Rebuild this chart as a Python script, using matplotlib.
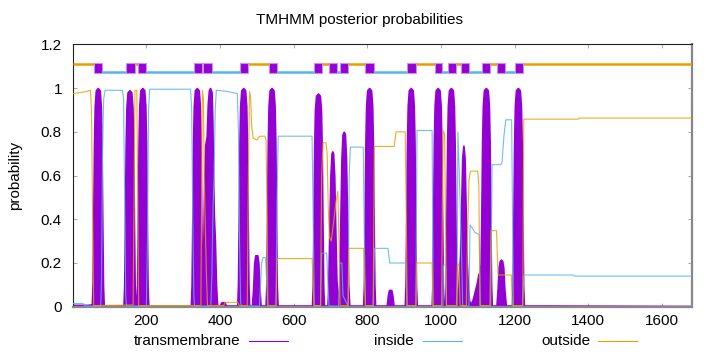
import matplotlib
matplotlib.use("Agg")
import matplotlib.pyplot as plt
from matplotlib.lines import Line2D
from matplotlib.patches import Rectangle
import numpy as np

plt.rcParams["font.family"] = ["Liberation Sans", "DejaVu Sans"]
plt.rcParams["font.size"] = 11

seq_len = 1681

# predicted transmembrane segments (top topology bar)
tm_start = [57, 146, 178, 328, 355, 454, 532, 655, 696, 725, 794, 908, 983, 1018, 1054, 1111, 1153, 1200]
tm_end = [79, 168, 200, 350, 377, 476, 554, 677, 719, 748, 817, 931, 1004, 1040, 1076, 1133, 1175, 1222]

# posterior probability, transmembrane
tm_points = [
    (1, 0.008), (40, 0.008), (50, 0.01),
    (52, 0.01), (54, 0.1), (56, 0.4), (58, 0.75), (60, 0.92), (63, 0.99), (68, 1.0), (73, 0.99), (76, 0.92), (78, 0.75), (80, 0.4), (82, 0.1), (84, 0.005),
    (138, 0.005), (140, 0.1), (142, 0.4), (144, 0.74), (146, 0.91), (149, 0.98), (154, 0.99), (159, 0.98), (162, 0.91), (164, 0.74), (166, 0.4), (168, 0.1), (170, 0.005),
    (173, 0.005), (175, 0.1), (177, 0.4), (179, 0.75), (181, 0.92), (184, 0.99), (189, 1.0), (194, 0.99), (197, 0.92), (199, 0.75), (201, 0.4), (203, 0.1), (205, 0.005),
    (321, 0.005), (323, 0.1), (325, 0.4), (327, 0.75), (329, 0.92), (332, 0.99), (337, 1.0), (342, 0.99), (345, 0.92), (347, 0.75), (349, 0.4), (351, 0.1), (353, 0.005),
    (354, 0.2), (357, 0.55), (360, 0.74), (364, 0.78), (367, 0.93), (370, 0.99), (373, 1.0), (377, 0.98), (379, 0.85), (381, 0.6), (383, 0.42), (386, 0.3), (389, 0.1), (392, 0.005),
    (400, 0.005), (404, 0.02), (412, 0.02), (416, 0.005),
    (447, 0.005), (449, 0.1), (451, 0.4), (453, 0.75), (455, 0.92), (458, 0.99), (463, 1.0), (468, 0.99), (471, 0.92), (473, 0.75), (475, 0.4), (477, 0.1), (479, 0.005),
    (487, 0.005), (490, 0.08), (493, 0.2), (496, 0.235), (501, 0.235), (504, 0.2), (507, 0.08), (510, 0.005),
    (524, 0.005), (526, 0.1), (528, 0.4), (530, 0.75), (532, 0.92), (535, 0.99), (540, 1.0), (545, 0.99), (548, 0.92), (550, 0.75), (552, 0.4), (554, 0.1), (556, 0.005),
    (650, 0.005), (652, 0.1), (654, 0.39), (656, 0.73), (658, 0.9), (661, 0.965), (666, 0.975), (671, 0.965), (674, 0.9), (676, 0.73), (678, 0.39), (680, 0.1), (682, 0.005),
    (692, 0.005), (694, 0.08), (697, 0.35), (700, 0.6), (703, 0.7), (705, 0.71), (707, 0.7), (710, 0.6), (713, 0.35), (716, 0.12), (719, 0.04),
    (722, 0.04), (724, 0.1), (727, 0.4), (730, 0.68), (733, 0.79), (736, 0.8), (739, 0.79), (742, 0.68), (745, 0.4), (748, 0.1), (751, 0.005),
    (789, 0.005), (791, 0.1), (793, 0.4), (795, 0.75), (797, 0.92), (800, 0.99), (805, 1.0), (810, 0.99), (813, 0.92), (815, 0.75), (817, 0.4), (819, 0.1), (821, 0.005),
    (853, 0.005), (856, 0.05), (859, 0.076), (865, 0.076), (868, 0.05), (871, 0.005),
    (902, 0.005), (904, 0.1), (906, 0.4), (908, 0.75), (910, 0.92), (913, 0.99), (918, 1.0), (923, 0.99), (926, 0.92), (928, 0.75), (930, 0.4), (932, 0.1), (934, 0.005),
    (975, 0.005), (977, 0.1), (979, 0.4), (981, 0.75), (983, 0.92), (986, 0.99), (991, 1.0), (996, 0.99), (999, 0.92), (1001, 0.75), (1003, 0.4), (1005, 0.1), (1007, 0.005),
    (1011, 0.005), (1013, 0.1), (1015, 0.4), (1017, 0.75), (1019, 0.92), (1022, 0.99), (1027, 1.0), (1032, 0.99), (1035, 0.92), (1037, 0.75), (1039, 0.4), (1041, 0.1), (1043, 0.005),
    (1046, 0.02), (1049, 0.15), (1052, 0.23), (1055, 0.45), (1058, 0.68), (1061, 0.736), (1064, 0.68), (1067, 0.45), (1070, 0.2), (1073, 0.1), (1076, 0.03),
    (1080, 0.01), (1086, 0.03), (1092, 0.07), (1098, 0.11), (1102, 0.15), (1105, 0.15),
    (1108, 0.2), (1110, 0.45), (1112, 0.75), (1114, 0.92), (1117, 0.99), (1122, 1.0), (1127, 0.99), (1130, 0.92), (1132, 0.75), (1134, 0.4), (1136, 0.1), (1138, 0.005),
    (1151, 0.005), (1154, 0.08), (1157, 0.18), (1160, 0.21), (1163, 0.215), (1166, 0.21), (1169, 0.18), (1172, 0.08), (1176, 0.005),
    (1193, 0.005), (1195, 0.1), (1197, 0.4), (1199, 0.75), (1201, 0.92), (1204, 0.99), (1209, 1.0), (1214, 0.99), (1217, 0.92), (1219, 0.75), (1221, 0.4), (1223, 0.1), (1225, 0.005),
    (1290, 0.005), (1681, 0.003),
]

# posterior probability, inside
inside_points = [
    (1, 0.015), (28, 0.015), (34, 0.003), (76, 0.003), (78, 0.1), (81, 0.7), (84, 0.95), (88, 0.99),
    (135, 0.99), (138, 0.95), (141, 0.5), (144, 0.05), (146, 0.003), (200, 0.003), (203, 0.3), (206, 0.9),
    (209, 0.995), (320, 0.995), (323, 0.9), (326, 0.4), (329, 0.05), (331, 0.003), (375, 0.003), (378, 0.15),
    (381, 0.45), (384, 0.6), (387, 0.9), (390, 0.99), (420, 0.985), (447, 0.975), (450, 0.8), (453, 0.3),
    (456, 0.02), (458, 0.003), (507, 0.003), (510, 0.1), (513, 0.2), (517, 0.225), (524, 0.225), (527, 0.1),
    (530, 0.003), (552, 0.003), (555, 0.5), (558, 0.78), (650, 0.78), (653, 0.4), (656, 0.003), (673, 0.003),
    (676, 0.245), (690, 0.245), (693, 0.1), (696, 0.003), (722, 0.003), (725, 0.2), (731, 0.2), (734, 0.05),
    (748, 0.003), (751, 0.6), (754, 0.73), (789, 0.73), (792, 0.3), (795, 0.003), (816, 0.003), (819, 0.267),
    (856, 0.267), (861, 0.2), (905, 0.2), (908, 0.003), (932, 0.003), (935, 0.806), (976, 0.806), (979, 0.003),
    (1005, 0.003), (1007, 0.19), (1013, 0.19), (1015, 0.003), (1044, 0.003), (1046, 0.8), (1049, 0.66),
    (1053, 0.4), (1056, 0.23), (1059, 0.003), (1076, 0.003), (1079, 0.374), (1085, 0.36), (1092, 0.34),
    (1104, 0.33), (1107, 0.003), (1135, 0.003), (1139, 0.65), (1162, 0.65), (1166, 0.66), (1171, 0.78),
    (1176, 0.855), (1192, 0.855), (1195, 0.3), (1197, 0.003), (1222, 0.003), (1225, 0.145), (1358, 0.145),
    (1362, 0.14), (1681, 0.14),
]

# posterior probability, outside
outside_points = [
    (1, 0.975), (30, 0.982), (48, 0.99), (51, 0.9), (54, 0.4), (57, 0.005), (164, 0.008), (166, 0.4),
    (169, 0.99), (174, 0.99), (177, 0.4), (179, 0.005), (348, 0.005), (350, 0.5), (352, 0.99), (355, 0.95),
    (357, 0.6), (360, 0.37), (363, 0.15), (366, 0.005), (410, 0.005), (414, 0.02), (448, 0.02), (452, 0.005),
    (474, 0.005), (477, 0.6), (480, 0.985), (483, 0.96), (486, 0.83), (490, 0.77), (500, 0.763), (508, 0.78),
    (522, 0.78), (525, 0.763), (528, 0.4), (530, 0.005), (552, 0.005), (555, 0.22), (650, 0.22), (653, 0.1),
    (655, 0.005), (673, 0.005), (676, 0.6), (680, 0.75), (688, 0.75), (691, 0.7), (694, 0.45), (697, 0.32),
    (702, 0.3), (708, 0.38), (715, 0.48), (720, 0.527), (723, 0.3), (726, 0.005), (748, 0.005), (750, 0.267),
    (790, 0.267), (793, 0.1), (795, 0.005), (816, 0.005), (819, 0.733), (873, 0.733), (878, 0.8), (903, 0.8),
    (906, 0.4), (908, 0.005), (932, 0.005), (934, 0.2), (976, 0.2), (978, 0.005), (1002, 0.005), (1004, 0.5),
    (1006, 0.806), (1010, 0.79), (1013, 0.3), (1015, 0.005), (1042, 0.005), (1045, 0.19), (1049, 0.195),
    (1052, 0.005), (1069, 0.005), (1072, 0.3), (1076, 0.58), (1080, 0.62), (1100, 0.62), (1103, 0.55),
    (1106, 0.005), (1133, 0.005), (1136, 0.348), (1151, 0.348), (1155, 0.145), (1191, 0.145), (1194, 0.005),
    (1222, 0.005), (1225, 0.858), (1372, 0.858), (1376, 0.863), (1681, 0.863),
]

x_ticks = [200, 400, 600, 800, 1000, 1200, 1400, 1600]
y_ticks = [0, 0.2, 0.4, 0.6, 0.8, 1.0, 1.2]
y_tick_labels = ["0", "0.2", "0.4", "0.6", "0.8", "1", "1.2"]

tm_colour = "#9400d3"
in_colour = "#56b4e9"
out_colour = "#e69f00"

W, H = 720, 352
fig = plt.figure(figsize=(W / 100, H / 100), dpi=100)
ax = fig.add_axes([73.1 / W, 1 - 306.7 / H, (691.7 - 73.1) / W, (306.7 - 44.4) / H])

# gnuplot draws this with thick impulses, so give the area a fat outline
tx, ty = np.array(tm_points).T
ax.fill_between(tx, 0, ty, facecolor=tm_colour, edgecolor=tm_colour, linewidth=1.3, zorder=2)

ix, iy = np.array(inside_points).T
ax.plot(ix, iy, color=in_colour, lw=0.8, alpha=0.85, zorder=3)
ox, oy = np.array(outside_points).T
ax.plot(ox, oy, color=out_colour, lw=0.8, alpha=0.85, zorder=4)

# topology bar: outside at 1.11, inside at 1.075, TM boxes between
bounds = [1] + [v for pair in zip(tm_start, tm_end) for v in pair] + [seq_len]
for k in range(0, len(bounds), 2):
    a, b = bounds[k], bounds[k + 1]
    seg = k // 2
    if seg % 2 == 0:
        ax.plot([a, b], [1.11, 1.11], color=out_colour, lw=1.8, solid_capstyle="butt", zorder=5)
    else:
        ax.plot([a, b], [1.075, 1.075], color=in_colour, lw=1.8, solid_capstyle="butt", zorder=5)
for s, e in zip(tm_start, tm_end):
    ax.add_patch(Rectangle((s, 1.07), e - s, 0.045, facecolor=tm_colour,
                           edgecolor="#c890ec", lw=0.8, zorder=6))

ax.set_xlim(1, seq_len)
ax.set_ylim(0, 1.2)
ax.set_xticks(x_ticks)
ax.set_yticks(y_ticks)
ax.set_yticklabels(y_tick_labels)
ax.tick_params(direction="in", length=3, width=0.6, color="#999999",
               top=True, right=True, labelsize=11)
ax.tick_params(axis="x", pad=5)
ax.tick_params(axis="y", pad=8)

for side in ["top", "left"]:
    ax.spines[side].set_color("#222222")
    ax.spines[side].set_linewidth(0.8)
for side in ["bottom", "right"]:
    ax.spines[side].set_color("#888888")
    ax.spines[side].set_linewidth(1.6)

fig.text(0.5, 1 - 20 / H, "TMHMM posterior probabilities", ha="center", va="center", fontsize=11)
fig.text(15 / W, 1 - 175 / H, "probability", ha="center", va="center", rotation=90, fontsize=11)

# legend laid out like gnuplot: label right-aligned, then the sample line
leg_y = 1 - 341 / H
legend_items = [("transmembrane", tm_colour, 240, 249, 288),
                ("inside", in_colour, 414, 423, 462),
                ("outside", out_colour, 590, 598, 637)]
for label, col, tx_end, l0, l1 in legend_items:
    fig.text(tx_end / W, leg_y, label, ha="right", va="center", fontsize=11)
    fig.add_artist(Line2D([l0 / W, l1 / W], [leg_y, leg_y], color=col, lw=0.8,
                          transform=fig.transFigure))

fig.savefig("out.png", dpi=100)
